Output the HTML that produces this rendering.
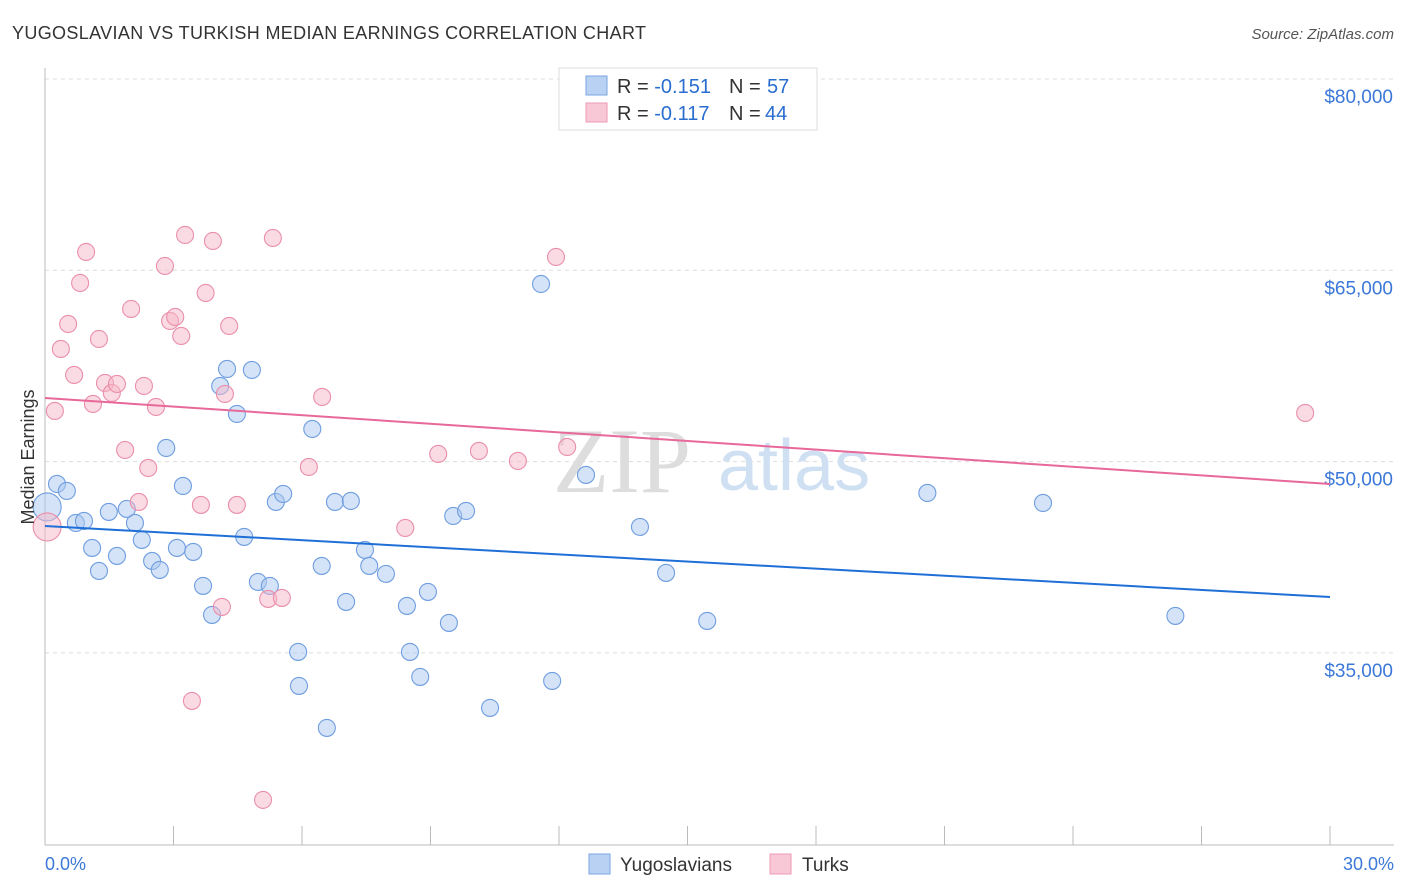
<!DOCTYPE html>
<html><head><meta charset="utf-8"><style>
body{margin:0;background:#fff;font-family:"Liberation Sans",sans-serif;}
svg{display:block}
</style></head><body>
<svg id="chart" width="1406" height="892">
<text x="12" y="39" font-size="18" fill="#333" textLength="634">YUGOSLAVIAN VS TURKISH MEDIAN EARNINGS CORRELATION CHART</text>
<text x="1394" y="39" font-size="15" fill="#555" font-style="italic" text-anchor="end">Source: ZipAtlas.com</text>
<g id="grid"></g>
<g id="axes"></g>
<text x="553" y="492" font-size="92" fill="#ddd" font-family="Liberation Serif,serif">ZIP</text>
<text x="718" y="490" font-size="72" fill="#cfe0f3">atlas</text>
<g id="pts"></g>
<g id="lines"></g>
<g>
<rect x="559" y="68" width="258" height="62" fill="#fff" stroke="#ddd"/>
<rect x="586" y="76" width="21" height="19" fill="#b9d2f3" stroke="#7aa6e0"/>
<rect x="586" y="103" width="21" height="19" fill="#f8c8d6" stroke="#eb9ab2"/>
<text x="617" y="93" font-size="20" fill="#333">R = <tspan fill="#2a6dd0">-0.151</tspan><tspan x="729">N = </tspan><tspan fill="#2a6dd0" x="767">57</tspan></text>
<text x="617" y="120" font-size="20" fill="#333">R = <tspan fill="#2a6dd0">-0.117</tspan><tspan x="729">N = </tspan><tspan fill="#2a6dd0" x="765">44</tspan></text>
</g>
<text transform="translate(34,457) rotate(-90)" font-size="18" fill="#333" text-anchor="middle">Median Earnings</text>
<text x="45" y="870" font-size="18" fill="#3b78d8">0.0%</text>
<text x="1394" y="870" font-size="18" fill="#3b78d8" text-anchor="end">30.0%</text>
<g><rect x="589" y="854" width="21" height="20" fill="#b9d2f3" stroke="#7aa6e0"/><text x="620" y="871" font-size="19" fill="#333">Yugoslavians</text></g>
<g><rect x="770" y="854" width="21" height="20" fill="#f8c8d6" stroke="#eb9ab2"/><text x="802" y="871" font-size="19" fill="#333">Turks</text></g>
</svg>
<script>
const yTicks=[80000,65000,50000,35000];
const yTickLabels=["$80,000","$65,000","$50,000","$35,000"];
const xTicks=[0,3,6,9,12,15,18,21,24,27,30];
const yugoX=[0.05,0.28,0.51,0.72,0.91,1.10,1.26,1.49,1.68,1.91,2.10,2.26,2.50,2.68,2.83,3.08,3.22,3.46,3.69,3.90,4.09,4.25,4.48,4.65,4.83,4.97,5.25,5.39,5.56,5.91,5.93,6.24,6.46,6.58,6.77,7.03,7.14,7.47,7.57,7.96,8.45,8.52,8.76,8.94,9.43,9.53,9.83,10.39,11.58,11.84,12.63,13.89,14.50,15.46,20.60,23.30,26.39];
const yugoY=[46445,48248,47699,45190,45347,43230,41427,46053,42603,46288,45190,43858,42211,41506,51070,43230,48091,42917,40251,37978,55931,57264,53736,44093,57186,40565,40251,46837,47464,35077,32411,52560,41819,29118,46837,38997,46915,43074,41819,41192,38683,35077,33117,39781,37350,45739,46131,30686,63928,32803,48954,44877,41270,37507,47542,46758,37899];
const turkX=[0.05,0.23,0.37,0.54,0.68,0.82,0.96,1.12,1.26,1.40,1.56,1.68,1.87,2.01,2.19,2.31,2.41,2.59,2.80,2.92,3.04,3.18,3.27,3.43,3.64,3.75,3.92,4.13,4.20,4.30,4.48,5.09,5.21,5.32,5.53,6.16,6.47,8.41,9.18,10.13,11.04,11.93,12.19,29.42];
const turkY=[44877,53971,58832,60792,56794,64006,66437,54520,59616,56166,55382,56088,50914,61968,46837,55931,49502,54285,65339,61027,61341,59851,67770,31235,46602,63222,67299,38605,55304,60635,46602,23474,39232,67534,39310,49581,55069,44798,50600,50835,50051,66045,51149,53814];
const yugoBig=[0];
const turkBig=[0];
const yugoTrend=[44950,39380];
const turkTrend=[54987,48244];
const NS="http://www.w3.org/2000/svg";
const X0=45,X1=1330,Y80=79,PX_PER=191.3/15000;
function xs(p){return X0+(X1-X0)*p/30;}
function ys(v){return Y80+(80000-v)*PX_PER;}
function mk(tag,attrs,parent){const e=document.createElementNS(NS,tag);for(const k in attrs)e.setAttribute(k,attrs[k]);parent.appendChild(e);return e;}
const grid=document.getElementById('grid'),axes=document.getElementById('axes');
yTicks.forEach((v,i)=>{
 const l=mk('line',{x1:45,x2:1394,y1:ys(v),y2:ys(v),stroke:'#ddd','stroke-dasharray':'4,4'},grid);
 
 
 const t=mk('text',{x:1393,y:ys(v)+24,'font-size':19,fill:'#3b78d8','text-anchor':'end'},grid);
 t.textContent=yTickLabels[i];
 
 
});
const ax=mk('line',{x1:45,x2:1394,y1:845,y2:845,stroke:'#bbb'},axes);


const ay=mk('line',{x1:45,x2:45,y1:68,y2:845,stroke:'#bbb'},axes);


xTicks.forEach(p=>{
 const t=mk('line',{x1:xs(p),x2:xs(p),y1:826,y2:845,stroke:'#bbb'},axes);
 
 
});
const pts=document.getElementById('pts');
function draw(X,Y,big,fill,stroke,name){
 X.forEach((p,i)=>{
  const r=big.includes(i)?14:8.5;
  const c=mk('circle',{cx:xs(p),cy:ys(Y[i]),r:r,fill:fill,'fill-opacity':0.5,stroke:stroke,'stroke-width':1.1},pts);
  
  
 });
}
draw(yugoX,yugoY,yugoBig,'#a9c8f0','#6f9ee0','yugoslavian-point');
draw(turkX,turkY,turkBig,'#f5b6c8','#ea8fab','turkish-point');
const lines=document.getElementById('lines');
const bl=mk('line',{x1:xs(0),x2:xs(30),y1:ys(yugoTrend[0]),y2:ys(yugoTrend[1]),stroke:'#1f6fd6','stroke-width':2},lines);


const pl=mk('line',{x1:xs(0),x2:xs(30),y1:ys(turkTrend[0]),y2:ys(turkTrend[1]),stroke:'#e8689a','stroke-width':2},lines);


</script>
</body></html>
